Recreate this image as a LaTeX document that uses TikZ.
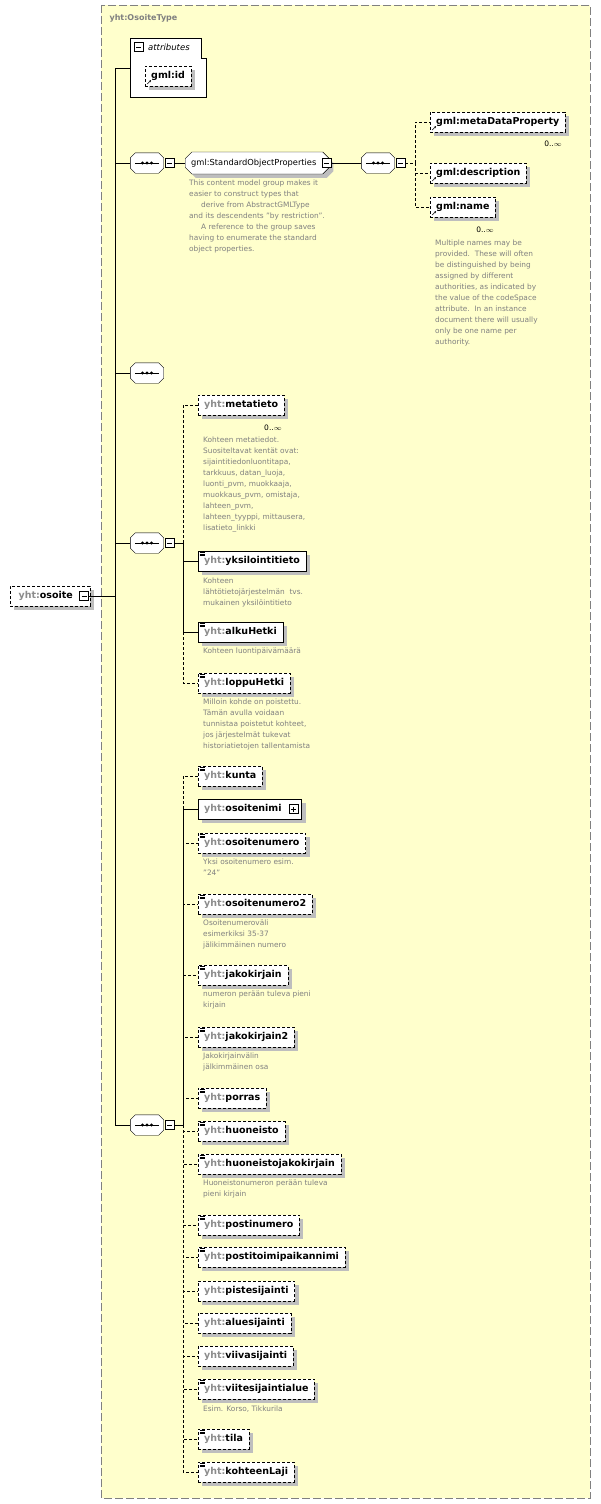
\documentclass[tikz,border=0pt]{standalone}
\usepackage{fontspec}
\setmainfont{DejaVu Sans}
\usetikzlibrary{positioning,shapes.misc,shadows,arrows.meta}
\definecolor{bgyellow}{RGB}{255,255,204}
\definecolor{docgray}{RGB}{128,128,128}
\definecolor{prefgray}{RGB}{140,140,140}
\definecolor{shadowgray}{RGB}{190,190,190}
\newcommand\elfont{\fontsize{9.5}{11}\selectfont\bfseries}
\newcommand\docfont{\fontsize{7.4}{11}\selectfont}
\newcommand\yht[1]{{\color{prefgray}yht:}#1}
% octagon outline around a node
\newcommand\octpath[1]{([xshift=5pt]#1.north west) -- ([xshift=-5pt]#1.north east) -- ([yshift=-5pt]#1.north east)
        -- ([yshift=5pt]#1.south east) -- ([xshift=-5pt]#1.south east) -- ([xshift=5pt]#1.south west)
        -- ([yshift=5pt]#1.south west) -- ([yshift=-5pt]#1.north west) -- cycle}
% sequence compositor: octagon with dots
\newcommand\seqnode[2]{%
    \node[seq] (#1) at (#2) {};
    \fill[shadowgray, shift={(4,4)}] \octpath{#1};
    \draw[fill=white] \octpath{#1};
    \draw (#1.center) +(-12,0) -- +(12,0);
    \foreach \d in {-4.5,0,4.5} \fill (#1.center) +(\d,0) circle (1.7);
}

\begin{document}
\begin{tikzpicture}[x=1pt,y=-1pt,
        elem/.style={draw, fill=white, minimum height=20, inner xsep=6, anchor=west, font=\elfont,
            drop shadow={shadow xshift=4pt, shadow yshift=-4pt, fill=shadowgray, opacity=1}},
        opt/.style={elem, dash pattern=on 3pt off 2pt},
        simple/.style={path picture={
            \foreach \k in {1.2,2.8,4.4} \draw[solid, line width=0.5pt] ([shift={(1.5,\k)}]path picture bounding box.north west) -- ++(5,0);}},
        ref/.style={path picture={
            \draw[solid, line width=0.6pt, -{Stealth[length=2.5pt]}] ([shift={(2,-2)}]path picture bounding box.south west) -- ++(4,-4);}},
        doc/.style={anchor=north west, align=left, font=\docfont, text=docgray, inner sep=0},
        seq/.style={rectangle, minimum width=33, minimum height=20, inner sep=0},
        mbox/.style={draw, solid, fill=white, minimum size=9, inner sep=0, anchor=west,
            path picture={\draw ([xshift=2pt]path picture bounding box.west) -- ([xshift=-2pt]path picture bounding box.east);}},
        pbox/.style={mbox, path picture={
            \draw ([xshift=2pt]path picture bounding box.west) -- ([xshift=-2pt]path picture bounding box.east);
            \draw ([yshift=2pt]path picture bounding box.south) -- ([yshift=-2pt]path picture bounding box.north);}},
        occ/.style={font=\fontsize{7.5}{8}\selectfont, inner sep=0},
        link/.style={thick},
        optlink/.style={thick, dash pattern=on 3pt off 2pt}
        ]
    \useasboundingbox (0,0) rectangle (600,1504);
    % complex type frame
    \draw[docgray, dash pattern=on 8pt off 3pt, fill=bgyellow] (101,5) rectangle (590,1498);
    \node[anchor=west, font=\fontsize{8}{9}\selectfont\bfseries, text=docgray] (typename) at (106,18) {yht:OsoiteType};

    % root element
    \node[opt, minimum width=80, anchor=west] (osoite) at (10,596) {\yht{osoite}\kern9pt};
    \node[mbox] (osoite_m) at ([xshift=-11]osoite.east) {};
    \coordinate (trunk) at (115,596);

    % attributes
    \draw[fill=white] (130,38) -- (201,38) -- (201,58) -- (206,58) -- (206,97) -- (130,97) -- cycle;
    \node[mbox] (attr_m) at (134,47) {};
    \node[anchor=west, font=\fontsize{8.5}{9}\selectfont\itshape, inner sep=0] (attr) at (148,47) {attributes};
    \coordinate (attr_in) at (130,68);
    \node[opt, ref, inner xsep=6] (gml_id) at (145,76) {gml:id};

    % sequences
    \seqnode{seq_1}{147,163}
    \node[mbox] (seq_1_m) at ([xshift=1]seq_1.east) {};
    \seqnode{seq_3}{147,373}
    \seqnode{seq_4}{147,543}
    \node[mbox] (seq_4_m) at ([xshift=1]seq_4.east) {};
    \seqnode{seq_5}{147,1125}
    \node[mbox] (seq_5_m) at ([xshift=1]seq_5.east) {};

    % standard object properties
    \node[chamfered rectangle, chamfered rectangle xsep=3pt, draw, fill=white, minimum height=19, inner xsep=3,
        anchor=west, font=\fontsize{8.3}{9}\selectfont,
        drop shadow={shadow xshift=4pt, shadow yshift=-4pt, fill=shadowgray, opacity=1}] (sop) at (185,163) {gml:StandardObjectProperties\kern7pt};
    \node[mbox] (sop_m) at ([xshift=-8]sop.east) {};
    \seqnode{seq_2}{378,163}
    \node[mbox] (seq_2_m) at ([xshift=1]seq_2.east) {};
    \coordinate (b2) at (415,163);
    \node[opt, ref] (metaDataProperty) at (430,122) {gml:metaDataProperty};
    \node[occ] (mdp_occ) at (553,144) {0..\(\infty\)};
    \node[opt, ref] (description) at (430,173) {gml:description};
    \node[opt, ref] (name) at (430,207) {gml:name};
    \node[occ] (name_occ) at (485,230) {0..\(\infty\)};
    \node[doc] (sop_doc) at (189,180) {This content model group makes it\\easier to construct types that\\\hspace{12pt}derive from AbstractGMLType\\and its descendents "by restriction".\\\hspace{12pt}A reference to the group saves\\having to enumerate the standard\\object properties.};
    \node[doc] (name_doc) at (435,240) {Multiple names may be\\provided.\ \ These will often\\be distinguished by being\\assigned by different\\authorities, as indicated by\\the value of the codeSpace\\attribute.\ \ In an instance\\document there will usually\\only be one name per\\authority.};

    % sequence 4
    \coordinate (b4) at (183,543);
    \node[opt] (metatieto) at (198,405) {\yht{metatieto}};
    \node[occ] (meta_occ) at (273,428) {0..\(\infty\)};
    \node[doc] (metatieto_doc) at (203,437) {Kohteen metatiedot.\\Suositeltavat kentät ovat:\\sijaintitiedonluontitapa,\\tarkkuus, datan\_luoja,\\luonti\_pvm, muokkaaja,\\muokkaus\_pvm, omistaja,\\lahteen\_pvm,\\lahteen\_tyyppi, mittausera,\\lisatieto\_linkki};
    \node[elem, simple] (yksilointitieto) at (198,561) {\yht{yksilointitieto}};
    \node[doc] (yks_doc) at (203,578) {Kohteen\\lähtötietojärjestelmän\ \ tvs.\\mukainen yksilöintitieto};
    \node[elem, simple] (alkuHetki) at (198,632) {\yht{alkuHetki}};
    \node[doc] (alku_doc) at (203,648) {Kohteen luontipäivämäärä};
    \node[opt, simple] (loppuHetki) at (198,683) {\yht{loppuHetki}};
    \node[doc] (loppu_doc) at (203,699) {Milloin kohde on poistettu.\\Tämän avulla voidaan\\tunnistaa poistetut kohteet,\\jos järjestelmät tukevat\\historiatietojen tallentamista};

    % sequence 5
    \coordinate (b5) at (183,1125);
    \node[opt, simple] (kunta) at (198,776) {\yht{kunta}};
    \node[elem] (osoitenimi) at (198,809) {\yht{osoitenimi}\kern14pt};
    \node[pbox] (osoitenimi_p) at ([xshift=-13]osoitenimi.east) {};
    \node[opt, simple] (osoitenumero) at (198,843) {\yht{osoitenumero}};
    \node[doc] (onum_doc) at (203,859) {Yksi osoitenumero esim.\\"24"};
    \node[opt, simple] (osoitenumero2) at (198,904) {\yht{osoitenumero2}};
    \node[doc] (onum2_doc) at (203,920) {Osoitenumeroväli\\esimerkiksi 35-37\\jälikimmäinen numero};
    \node[opt, simple] (jakokirjain) at (198,975) {\yht{jakokirjain}};
    \node[doc] (jako_doc) at (203,991) {numeron perään tuleva pieni\\kirjain};
    \node[opt, simple] (jakokirjain2) at (198,1037) {\yht{jakokirjain2}};
    \node[doc] (jako2_doc) at (203,1053) {Jakokirjainvälin\\jälkimmäinen osa};
    \node[opt, simple] (porras) at (198,1098) {\yht{porras}};
    \node[opt, simple] (huoneisto) at (198,1131) {\yht{huoneisto}};
    \node[opt, simple] (huoneistojakokirjain) at (198,1164) {\yht{huoneistojakokirjain}};
    \node[doc] (hjako_doc) at (203,1180) {Huoneistonumeron perään tuleva\\pieni kirjain};
    \node[opt, simple] (postinumero) at (198,1225) {\yht{postinumero}};
    \node[opt, simple] (postitoimipaikannimi) at (198,1257) {\yht{postitoimipaikannimi}};
    \node[opt] (pistesijainti) at (198,1291) {\yht{pistesijainti}};
    \node[opt] (aluesijainti) at (198,1323) {\yht{aluesijainti}};
    \node[opt] (viivasijainti) at (198,1356) {\yht{viivasijainti}};
    \node[opt, simple] (viitesijaintialue) at (198,1389) {\yht{viitesijaintialue}};
    \node[doc] (viite_doc) at (203,1406) {Esim. Korso, Tikkurila};
    \node[opt, simple] (tila) at (198,1439) {\yht{tila}};
    \node[opt, simple] (kohteenLaji) at (198,1472) {\yht{kohteenLaji}};

    % Lines
    \draw[link] (osoite_m) -- (trunk);
    \draw[link] (trunk) |- (attr_in);
    \draw[link] (trunk) |- (seq_1.west);
    \draw[link] (trunk) |- (seq_3.west);
    \draw[link] (trunk) |- (seq_4.west);
    \draw[link] (trunk) |- (seq_5.west);
    \draw[link] (seq_1_m) -- (sop.west);
    \draw[link] (sop_m) -- (seq_2.west);
    \draw[optlink] (seq_2_m) -- (b2);
    \foreach \n in {metaDataProperty, description, name}
        \draw[optlink] (b2) |- (\n.west);
    \draw[link] (seq_4_m) -- (b4);
    \draw[optlink] (b4) |- (metatieto.west);
    \draw[link] (b4) |- (yksilointitieto.west);
    \draw[link] (b4) |- (alkuHetki.west);
    \draw[optlink] (alkuHetki.west -| b4) |- (loppuHetki.west);
    \draw[link] (seq_5_m) -- (b5);
    \draw[link] (b5) |- (osoitenimi.west);
    \draw[optlink] (osoitenimi.west -| b5) |- (kunta.west);
    \foreach \n in {osoitenumero, osoitenumero2, jakokirjain, jakokirjain2, porras}
        \draw[optlink] (b5) |- (\n.west);
    \foreach \n in {huoneisto, huoneistojakokirjain, postinumero, postitoimipaikannimi, pistesijainti, aluesijainti, viivasijainti, viitesijaintialue, tila, kohteenLaji}
        \draw[optlink] (b5) |- (\n.west);
\end{tikzpicture}
\end{document}
